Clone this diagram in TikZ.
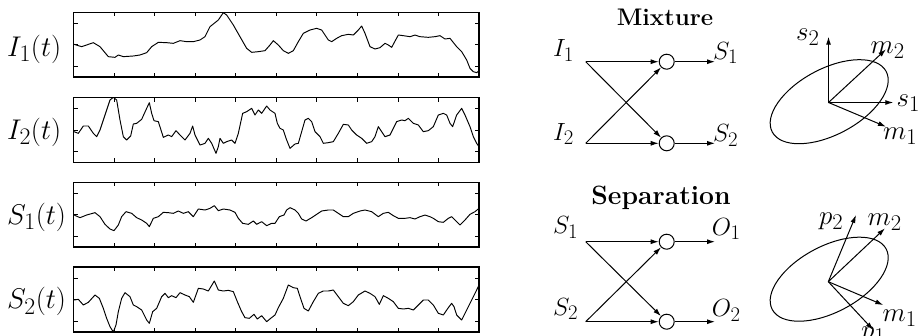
\documentclass[tikz,border=0pt]{standalone}
\usetikzlibrary{arrows.meta}
\newcommand{\sized}[2]{\scalebox{#1}{#2}}
\begin{document}
\begin{tikzpicture}[x=1pt,y=-1pt,
  frame/.style={line width=1.6pt},
  sig/.style={line width=0.95pt,line join=round},
  tickmark/.style={line width=0.8pt},
  arr/.style={line width=1pt,-{Latex[length=8pt,width=5pt]}},
  sumnode/.style={circle,draw,line width=1pt,minimum size=15pt,inner sep=0pt},
  lbl/.style={font=\fontsize{24.88}{30}\selectfont,inner sep=0pt,anchor=base west},
  ttl/.style={font=\fontsize{24.88}{30}\selectfont\bfseries,inner sep=0pt,anchor=base}]
\useasboundingbox (0,0) rectangle (919,335);

% ---------- frames with ticks ----------
\foreach \t in {12.3,97.5,182.3,267.2}{
  \draw[frame] (73.5,\t) rectangle (479,\t+64.8);
  \foreach \k in {1,...,9}{
    \draw[tickmark] (73.5+\k*40.55,\t) -- ++(0,4);
    \draw[tickmark] (73.5+\k*40.55,\t+64.8) -- ++(0,-4);
  }
  \foreach \f in {0.1667,0.5,0.8333}{
    \draw[tickmark] (73.5,\t+\f*64.8) -- ++(4,0);
    \draw[tickmark] (479,\t+\f*64.8) -- ++(-4,0);
  }
}

% ---------- signal labels ----------
\node[lbl] (lab1) at (7,56) {\sized{1.145}{$I_1(t)$}};
\node[lbl] (lab2) at (7,139) {\sized{1.145}{$I_2(t)$}};
\node[lbl] (lab3) at (7,224.5) {\sized{1.145}{$S_1(t)$}};
\node[lbl] (lab4) at (7,308.5) {\sized{1.145}{$S_2(t)$}};

% ---------- signals (top two) ----------
\begin{scope}[xscale=1/3,yscale=1/3]
 \begin{scope}
  \clip (220,37) rectangle (1437,230);
  \draw[sig] plot coordinates {(222,133) (245,140) (280,128) (300,140) (325,170) (345,172) (355,165) (370,170) (400,168) (420,165) (440,158) (455,140) (475,127) (500,128) (520,130) (540,122) (560,125) (580,125) (600,120) (615,110) (630,80) (655,60) (670,38) (680,45) (700,75) (720,110) (740,145) (755,157) (775,155) (795,152) (810,135) (820,122) (835,135) (850,152) (865,160) (880,152) (895,125) (910,100) (930,90) (950,85) (965,90) (985,120) (995,125) (1010,115) (1025,107) (1045,103) (1060,105) (1075,90) (1085,78) (1095,100) (1110,140) (1125,147) (1140,143) (1155,130) (1165,135) (1175,142) (1195,105) (1210,107) (1230,110) (1245,105) (1260,110) (1285,112) (1305,110) (1320,107) (1335,117) (1350,115) (1370,140) (1385,155) (1400,180) (1410,205) (1420,215) (1430,218) (1437,212)};
 \end{scope}
 \begin{scope}
  \clip (220,293) rectangle (1437,490);
  \draw[sig] plot coordinates {(222,395) (235,400) (250,378) (265,378) (280,400) (290,410) (300,390) (315,345) (330,300) (340,292) (350,300) (360,360) (370,410) (380,420) (392,408) (400,372) (410,370) (425,358) (440,325) (448,308) (455,340) (462,362) (475,365) (490,412) (505,405) (515,410) (528,392) (540,405) (555,420) (570,400) (578,378) (585,405) (600,435) (615,430) (625,415) (635,430) (648,460) (655,440) (660,415) (670,430) (680,425) (695,420) (705,430) (715,400) (728,340) (740,335) (755,325) (765,345) (775,330) (785,340) (800,318) (810,330) (825,340) (832,370) (840,385) (850,390) (860,420) (870,445) (885,432) (895,430) (905,395) (915,360) (925,355) (935,365) (945,395) (960,410) (970,430) (985,428) (1000,425) (1015,400) (1030,373) (1045,375) (1055,390) (1070,405) (1085,415) (1100,430) (1115,425) (1125,410) (1135,380) (1145,395) (1155,410) (1170,405) (1190,365) (1205,360) (1215,362) (1225,355) (1240,370) (1255,375) (1270,395) (1285,392) (1300,380) (1315,345) (1330,340) (1340,345) (1350,370) (1358,380) (1370,345) (1385,325) (1395,345) (1410,380) (1420,410) (1430,430) (1437,440)};
 \end{scope}
\end{scope}

% ---------- signals (bottom two) ----------
\begin{scope}[shift={(0,165)},xscale=1/3,yscale=1/3]
 \begin{scope}
  \clip (220,52) rectangle (1437,246);
  \draw[sig] plot coordinates {(222,150) (240,158) (260,150) (285,143) (300,155) (315,178) (330,192) (342,197) (355,180) (365,155) (378,140) (395,145) (410,158) (425,165) (440,175) (448,185) (460,160) (475,155) (490,142) (505,143) (520,145) (535,138) (550,145) (565,140) (580,155) (595,132) (615,135) (630,130) (643,122) (655,137) (670,132) (690,135) (705,142) (715,160) (728,175) (745,178) (760,168) (770,178) (785,170) (800,182) (815,175) (825,175) (838,155) (852,150) (860,135) (870,128) (885,135) (895,145) (905,162) (918,168) (935,158) (950,148) (965,138) (985,135) (1000,135) (1015,145) (1030,155) (1045,155) (1060,145) (1080,138) (1095,135) (1115,140) (1135,155) (1150,145) (1165,142) (1180,152) (1195,160) (1215,160) (1230,158) (1245,162) (1260,155) (1275,150) (1290,155) (1300,160) (1315,170) (1330,172) (1345,160) (1355,155) (1365,165) (1380,180) (1395,165) (1410,148) (1425,140) (1437,130)};
 \end{scope}
 \begin{scope}
  \clip (220,307) rectangle (1437,501);
  \draw[sig] plot coordinates {(222,405) (235,403) (250,420) (265,412) (285,390) (298,400) (310,430) (320,460) (330,485) (340,501) (348,480) (355,440) (365,400) (375,383) (390,395) (400,420) (410,425) (425,435) (440,465) (448,475) (458,440) (470,430) (485,395) (495,385) (505,398) (515,392) (528,398) (540,383) (555,390) (568,395) (580,412) (595,370) (610,372) (625,378) (643,348) (655,375) (670,378) (685,376) (700,380) (712,410) (725,440) (735,458) (748,460) (762,448) (772,462) (785,452) (800,470) (812,460) (825,450) (835,428) (850,400) (865,360) (880,368) (892,370) (900,395) (912,430) (925,438) (940,410) (955,385) (970,378) (985,378) (1000,375) (1015,395) (1030,415) (1045,422) (1060,410) (1075,390) (1095,378) (1110,385) (1125,395) (1138,418) (1150,392) (1165,400) (1180,410) (1195,430) (1210,432) (1225,430) (1240,435) (1255,420) (1270,405) (1285,405) (1300,420) (1315,445) (1330,450) (1345,428) (1355,415) (1362,425) (1370,450) (1385,465) (1400,435) (1415,405) (1430,375) (1437,360)};
 \end{scope}
\end{scope}

% ---------- Mixture network ----------
\node[ttl] (tmix) at (665,25) {\sized{0.965}{Mixture}};
\coordinate (mi1) at (585.7,61.7);
\coordinate (mi2) at (585.7,143.3);
\node[sumnode] (ma1) at (666.7,61.7) {};
\node[sumnode] (ma2) at (666.7,143.3) {};
\coordinate (mo1) at (715,61.7);
\coordinate (mo2) at (715,143.3);
\draw[arr] (mi1) -- (ma1);
\draw[arr] (mi1) -- (ma2);
\draw[arr] (mi2) -- (ma1);
\draw[arr] (mi2) -- (ma2);
\draw[arr] (ma1) -- (mo1);
\draw[arr] (ma2) -- (mo2);
\node[lbl] (lmi1) at (553,56.7) {$I_1$};
\node[lbl] (lmi2) at (553,140) {$I_2$};
\node[lbl] (lmo1) at (713,59) {$S_1$};
\node[lbl] (lmo2) at (713,141.5) {$S_2$};

% ---------- Separation network ----------
\node[ttl] (tsep) at (661,204) {\sized{1.065}{Separation}};
\coordinate (si1) at (585.7,241.7);
\coordinate (si2) at (585.7,321.7);
\node[sumnode] (sa1) at (666.7,241.7) {};
\node[sumnode] (sa2) at (666.7,321.7) {};
\coordinate (so1) at (715,241.7);
\coordinate (so2) at (715,321.7);
\draw[arr] (si1) -- (sa1);
\draw[arr] (si1) -- (sa2);
\draw[arr] (si2) -- (sa1);
\draw[arr] (si2) -- (sa2);
\draw[arr] (sa1) -- (so1);
\draw[arr] (sa2) -- (so2);
\node[lbl] (lsi1) at (553,233.3) {$S_1$};
\node[lbl] (lsi2) at (553,315) {$S_2$};
\node[lbl] (lso1) at (711.7,235) {$O_1$};
\node[lbl] (lso2) at (711.7,316.7) {$O_2$};

% ---------- Mixture ellipse ----------
\coordinate (eo1) at (828.5,102.5);
\draw[line width=1pt,rotate around={28:(829.2,101.7)}] (829.2,101.7) ellipse [x radius=64.5,y radius=33];
\coordinate (es2) at (828.5,36.7);
\coordinate (es1) at (893.3,102.5);
\coordinate (em2) at (886,49.3);
\coordinate (em1) at (886,126.7);
\draw[arr] (eo1) -- (es2);
\draw[arr] (eo1) -- (es1);
\draw[arr] (eo1) -- (em2);
\draw[arr] (eo1) -- (em1);
\node[lbl] (les2) at (796,40.7) {\sized{1.085}{$s_2$}};
\node[lbl] (lem2) at (870.5,53.3) {\sized{1.085}{$m_2$}};
\node[lbl] (les1) at (896.5,106) {\sized{1.085}{$s_1$}};
\node[lbl] (lem1) at (883,139.3) {\sized{1.085}{$m_1$}};

% ---------- Separation ellipse ----------
\coordinate (eo2) at (828.3,281.7);
\draw[line width=1pt,rotate around={28:(829.2,279.2)}] (829.2,279.2) ellipse [x radius=64.5,y radius=33];
\coordinate (ep2) at (856,215);
\coordinate (ef2) at (885,228.3);
\coordinate (ef1) at (883.3,305);
\coordinate (ep1) at (873.3,330);
\draw[arr] (eo2) -- (ep2);
\draw[arr] (eo2) -- (ef2);
\draw[arr] (eo2) -- (ef1);
\draw[arr] (eo2) -- (ep1);
\node[lbl] (lep2) at (819,224.3) {\sized{1.085}{$p_2$}};
\node[lbl] (lef2) at (867.5,225) {\sized{1.085}{$m_2$}};
\node[lbl] (lef1) at (882.5,321.7) {\sized{1.085}{$m_1$}};
\node[lbl] (lep1) at (861,338.5) {\sized{1.085}{$p_1$}};
\end{tikzpicture}
\end{document}
